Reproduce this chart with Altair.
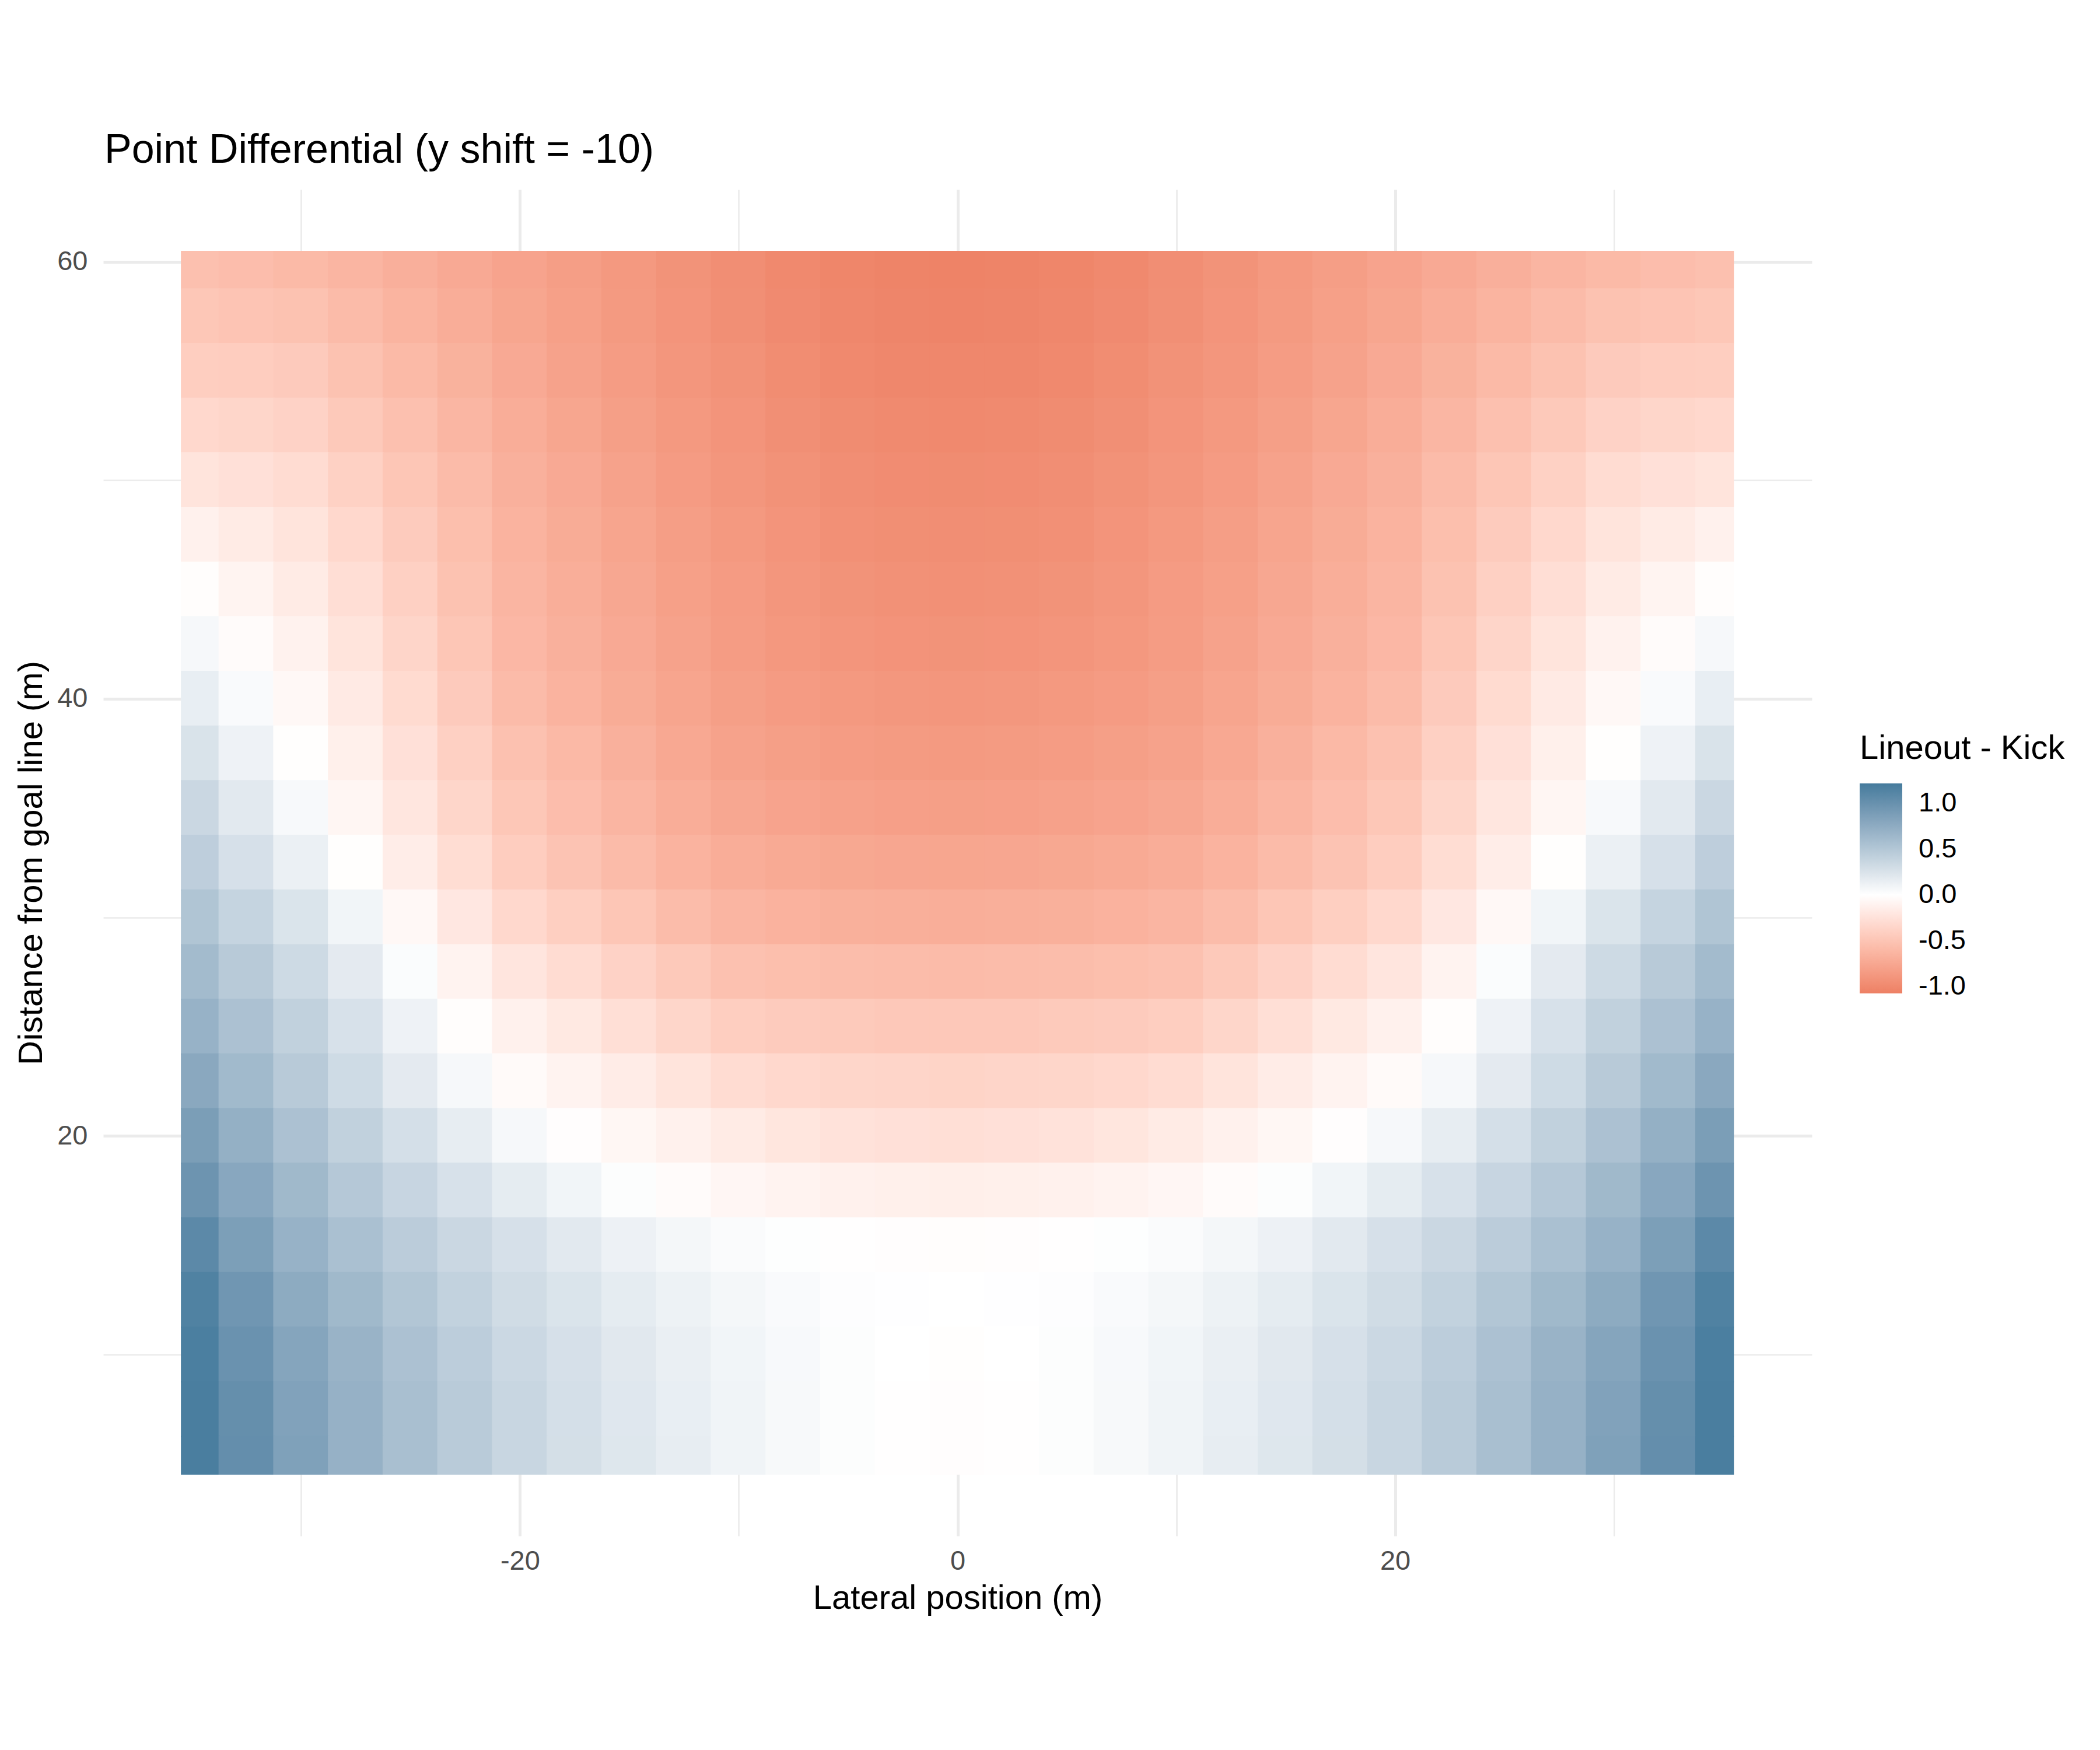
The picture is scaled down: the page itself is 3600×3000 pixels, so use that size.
import altair as alt
import pandas as pd

# Tile centres (metres)
x_centers = [-35, -32.5, -30, -27.5, -25, -22.5, -20, -17.5, -15, -12.5, -10, -7.5, -5, -2.5,
             0, 2.5, 5, 7.5, 10, 12.5, 15, 17.5, 20, 22.5, 25, 27.5, 30, 32.5, 35]
y_centers = [60, 57.5, 55, 52.5, 50, 47.5, 45, 42.5, 40, 37.5, 35, 32.5, 30, 27.5, 25,
             22.5, 20, 17.5, 15, 12.5, 10, 7.5, 5]

# Point differential (Lineout - Kick), one list per row
row_60 = [-0.54, -0.56, -0.59, -0.63, -0.68, -0.73, -0.78, -0.83, -0.87, -0.92, -0.96, -1.00, -1.03, -1.045, -1.05,
          -1.045, -1.03, -1.00, -0.96, -0.92, -0.87, -0.83, -0.78, -0.73, -0.68, -0.63, -0.59, -0.56, -0.54]
row_57_5 = [-0.48, -0.50, -0.52, -0.58, -0.64, -0.70, -0.76, -0.81, -0.86, -0.91, -0.95, -0.99, -1.02, -1.035, -1.04,
            -1.035, -1.02, -0.99, -0.95, -0.91, -0.86, -0.81, -0.76, -0.70, -0.64, -0.58, -0.52, -0.50, -0.48]
row_55 = [-0.42, -0.43, -0.45, -0.52, -0.59, -0.66, -0.73, -0.79, -0.84, -0.89, -0.93, -0.97, -1.00, -1.015, -1.02,
          -1.015, -1.00, -0.97, -0.93, -0.89, -0.84, -0.79, -0.73, -0.66, -0.59, -0.52, -0.45, -0.43, -0.42]
row_52_5 = [-0.33, -0.35, -0.38, -0.46, -0.54, -0.62, -0.70, -0.76, -0.82, -0.87, -0.91, -0.95, -0.98, -0.995, -1.00,
            -0.995, -0.98, -0.95, -0.91, -0.87, -0.82, -0.76, -0.70, -0.62, -0.54, -0.46, -0.38, -0.35, -0.33]
row_50 = [-0.23, -0.26, -0.30, -0.39, -0.49, -0.58, -0.67, -0.73, -0.79, -0.85, -0.89, -0.93, -0.96, -0.975, -0.98,
          -0.975, -0.96, -0.93, -0.89, -0.85, -0.79, -0.73, -0.67, -0.58, -0.49, -0.39, -0.30, -0.26, -0.23]
row_47_5 = [-0.12, -0.17, -0.23, -0.33, -0.44, -0.55, -0.65, -0.71, -0.77, -0.83, -0.87, -0.91, -0.94, -0.955, -0.96,
            -0.955, -0.94, -0.91, -0.87, -0.83, -0.77, -0.71, -0.65, -0.55, -0.44, -0.33, -0.23, -0.17, -0.12]
row_45 = [-0.02, -0.09, -0.17, -0.28, -0.40, -0.52, -0.63, -0.69, -0.75, -0.81, -0.85, -0.89, -0.92, -0.935, -0.94,
          -0.935, -0.92, -0.89, -0.85, -0.81, -0.75, -0.69, -0.63, -0.52, -0.40, -0.28, -0.17, -0.09, -0.02]
row_42_5 = [0.06, -0.03, -0.11, -0.23, -0.36, -0.49, -0.61, -0.67, -0.73, -0.79, -0.84, -0.88, -0.90, -0.915, -0.92,
            -0.915, -0.90, -0.88, -0.84, -0.79, -0.73, -0.67, -0.61, -0.49, -0.36, -0.23, -0.11, -0.03, 0.06]
row_40 = [0.15, 0.04, -0.06, -0.18, -0.31, -0.45, -0.58, -0.65, -0.71, -0.77, -0.82, -0.85, -0.87, -0.885, -0.89,
          -0.885, -0.87, -0.85, -0.82, -0.77, -0.71, -0.65, -0.58, -0.45, -0.31, -0.18, -0.06, 0.04, 0.15]
row_37_5 = [0.25, 0.11, -0.01, -0.13, -0.26, -0.40, -0.53, -0.60, -0.67, -0.74, -0.79, -0.82, -0.84, -0.855, -0.86,
            -0.855, -0.84, -0.82, -0.79, -0.74, -0.67, -0.60, -0.53, -0.40, -0.26, -0.13, -0.01, 0.11, 0.25]
row_35 = [0.35, 0.19, 0.05, -0.08, -0.21, -0.35, -0.48, -0.56, -0.63, -0.70, -0.75, -0.78, -0.80, -0.815, -0.82,
          -0.815, -0.80, -0.78, -0.75, -0.70, -0.63, -0.56, -0.48, -0.35, -0.21, -0.08, 0.05, 0.19, 0.35]
row_32_5 = [0.43, 0.27, 0.13, -0.01, -0.15, -0.29, -0.43, -0.51, -0.58, -0.65, -0.70, -0.725, -0.745, -0.755, -0.76,
            -0.755, -0.745, -0.725, -0.70, -0.65, -0.58, -0.51, -0.43, -0.29, -0.15, -0.01, 0.13, 0.27, 0.43]
row_30 = [0.52, 0.38, 0.24, 0.09, -0.06, -0.20, -0.33, -0.41, -0.49, -0.57, -0.63, -0.655, -0.675, -0.685, -0.69,
          -0.685, -0.675, -0.655, -0.63, -0.57, -0.49, -0.41, -0.33, -0.20, -0.06, 0.09, 0.24, 0.38, 0.52]
row_27_5 = [0.61, 0.47, 0.33, 0.18, 0.03, -0.10, -0.22, -0.30, -0.38, -0.46, -0.53, -0.55, -0.565, -0.575, -0.58,
            -0.575, -0.565, -0.55, -0.53, -0.46, -0.38, -0.30, -0.22, -0.10, 0.03, 0.18, 0.33, 0.47, 0.61]
row_25 = [0.69, 0.55, 0.41, 0.26, 0.11, -0.02, -0.12, -0.19, -0.27, -0.35, -0.42, -0.44, -0.455, -0.465, -0.47,
          -0.465, -0.455, -0.44, -0.42, -0.35, -0.27, -0.19, -0.12, -0.02, 0.11, 0.26, 0.41, 0.55, 0.69]
row_22_5 = [0.78, 0.62, 0.47, 0.32, 0.18, 0.06, -0.04, -0.10, -0.16, -0.23, -0.30, -0.33, -0.35, -0.36, -0.37,
            -0.36, -0.35, -0.33, -0.30, -0.23, -0.16, -0.10, -0.04, 0.06, 0.18, 0.32, 0.47, 0.62, 0.78]
row_20 = [0.88, 0.71, 0.55, 0.41, 0.28, 0.16, 0.06, -0.015, -0.07, -0.12, -0.17, -0.215, -0.245, -0.26, -0.27,
          -0.26, -0.245, -0.215, -0.17, -0.12, -0.07, -0.015, 0.06, 0.16, 0.28, 0.41, 0.55, 0.71, 0.88]
row_17_5 = [0.97, 0.79, 0.63, 0.49, 0.37, 0.26, 0.17, 0.09, 0.02, -0.035, -0.075, -0.10, -0.12, -0.13, -0.135,
            -0.13, -0.12, -0.10, -0.075, -0.035, 0.02, 0.09, 0.17, 0.26, 0.37, 0.49, 0.63, 0.79, 0.97]
row_15 = [1.08, 0.87, 0.69, 0.56, 0.45, 0.35, 0.27, 0.19, 0.12, 0.07, 0.035, 0.01, -0.005, -0.015, -0.02,
          -0.015, -0.005, 0.01, 0.035, 0.07, 0.12, 0.19, 0.27, 0.35, 0.45, 0.56, 0.69, 0.87, 1.08]
row_12_5 = [1.15, 0.95, 0.76, 0.63, 0.51, 0.40, 0.31, 0.24, 0.17, 0.115, 0.07, 0.04, 0.015, 0.005, 0.00,
            0.005, 0.015, 0.04, 0.07, 0.115, 0.17, 0.24, 0.31, 0.40, 0.51, 0.63, 0.76, 0.95, 1.15]
row_10 = [1.18, 0.99, 0.81, 0.68, 0.55, 0.44, 0.345, 0.27, 0.20, 0.14, 0.09, 0.05, 0.02, 0.00, -0.01,
          0.00, 0.02, 0.05, 0.09, 0.14, 0.20, 0.27, 0.345, 0.44, 0.55, 0.68, 0.81, 0.99, 1.18]
row_7_5 = [1.19, 1.02, 0.84, 0.70, 0.57, 0.46, 0.36, 0.28, 0.21, 0.15, 0.10, 0.055, 0.02, -0.005, -0.015,
           -0.005, 0.02, 0.055, 0.10, 0.15, 0.21, 0.28, 0.36, 0.46, 0.57, 0.70, 0.84, 1.02, 1.19]
row_5 = [1.19, 1.03, 0.85, 0.70, 0.57, 0.46, 0.36, 0.285, 0.215, 0.155, 0.10, 0.055, 0.02, -0.005, -0.015,
         -0.005, 0.02, 0.055, 0.10, 0.155, 0.215, 0.285, 0.36, 0.46, 0.57, 0.70, 0.85, 1.03, 1.19]

rows = [row_60, row_57_5, row_55, row_52_5, row_50, row_47_5, row_45, row_42_5, row_40,
        row_37_5, row_35, row_32_5, row_30, row_27_5, row_25, row_22_5, row_20, row_17_5,
        row_15, row_12_5, row_10, row_7_5, row_5]

# Field extent (edges of the outer tiles)
x_extent = [-35.5, 35.5]
y_extent = [4.5, 60.5]
half_step = 1.25
seam = 0.03  # tiny overlap so neighbouring tiles leave no hairline gaps

records = []
for yc, row in zip(y_centers, rows):
    for xc, v in zip(x_centers, row):
        records.append({
            "x": max(xc - half_step - seam, x_extent[0]),
            "x2": min(xc + half_step + seam, x_extent[1]),
            "y": max(yc - half_step - seam, y_extent[0]),
            "y2": min(yc + half_step + seam, y_extent[1]),
            "v": v,
        })
df = pd.DataFrame(records)

FONT = "Liberation Sans"
legend_values = [-1.0, -0.5, 0.0, 0.5, 1.0]
color_scale = alt.Scale(domain=[-1.076, 0, 1.217],
                        range=["#ED8064", "#FFFFFF", "#457B9D"],
                        interpolate="lab")

grid_w = {"condition": {"test": "abs(datum.value) % 20 === 0", "value": 5}, "value": 2.7}
lab_expr = "abs(datum.value) % 20 === 0 ? '' + datum.value : ''"

x_axis = alt.Axis(values=[-30, -20, -10, 0, 10, 20, 30], labelExpr=lab_expr,
                  grid=True, gridColor="#EBEBEB", gridWidth=grid_w,
                  ticks=False, domain=False,
                  labelFont=FONT, labelFontSize=47, labelColor="#4D4D4D", labelPadding=20,
                  titleFont=FONT, titleFontSize=58, titleFontWeight="normal",
                  titleColor="black", titlePadding=12)
y_axis = alt.Axis(values=[10, 20, 30, 40, 50, 60], labelExpr=lab_expr,
                  grid=True, gridColor="#EBEBEB", gridWidth=grid_w,
                  ticks=False, domain=False,
                  labelFont=FONT, labelFontSize=47, labelColor="#4D4D4D", labelPadding=27,
                  titleFont=FONT, titleFontSize=58, titleFontWeight="normal",
                  titleColor="black", titlePadding=14)

legend = alt.Legend(type="gradient", orient="none", legendX=3011, legendY=930,
                    direction="vertical",
                    gradientLength=360, gradientThickness=73, gradientStrokeWidth=0,
                    values=legend_values,
                    labelExpr="datum.value < 0 ? '-' + format(abs(datum.value), '.1f') : format(datum.value, '.1f')",
                    labelFont=FONT, labelFontSize=47, labelColor="black", labelOffset=28,
                    labelOverlap=False,
                    titleFont=FONT, titleFontSize=58, titleFontWeight="normal",
                    titleColor="black", titlePadding=30, titleLimit=1000)

chart = alt.Chart(df).mark_rect().encode(
    x=alt.X("x:Q", scale=alt.Scale(domain=[-39.05, 39.05], nice=False, zero=False),
            axis=x_axis, title="Lateral position (m)"),
    x2="x2:Q",
    y=alt.Y("y:Q", scale=alt.Scale(domain=[1.7, 63.3], nice=False, zero=False),
            axis=y_axis, title="Distance from goal line (m)"),
    y2="y2:Q",
    color=alt.Color("v:Q", scale=color_scale, legend=legend, title="Lineout - Kick"),
).properties(
    width=2929, height=2308,
    title=alt.TitleParams("Point Differential (y shift = -10)", anchor="start", frame="group",
                          font=FONT, fontSize=70, fontWeight="normal", color="black",
                          baseline="alphabetic", offset=45, dx=2, dy=69),
    padding={"left": 169, "top": 317, "right": 480, "bottom": 350},
    autosize=alt.AutoSizeParams(type="none"),
).configure(background="white").configure_view(stroke=None, strokeWidth=0)

chart.save("out.html", embed_options={"renderer": "svg", "actions": False})
